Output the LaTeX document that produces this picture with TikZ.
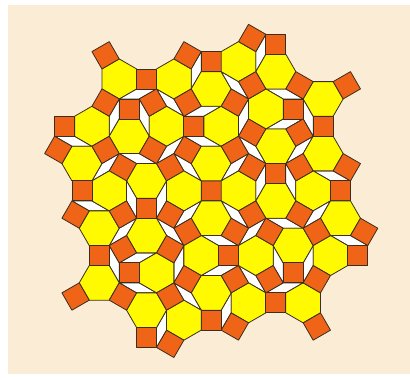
\documentclass[tikz,border=0pt]{standalone}
\usepackage{tikz}
\usepackage{xcolor}
\definecolor{tileorange}{RGB}{240,100,24}
\definecolor{tileyellow}{RGB}{255,250,0}
\definecolor{tileedge}{RGB}{60,45,30}
\definecolor{paperbeige}{RGB}{251,236,214}
\usetikzlibrary{calc}

% tiles: centre and turn, or corner and two edge directions
\newcommand{\sqtile}[2]{%
  \draw[sqr] (#1) +(45+#2:14.142) -- +(135+#2:14.142) -- +(225+#2:14.142) -- +(315+#2:14.142) -- cycle;}
\newcommand{\hextile}[2]{%
  \draw[hexa] (#1) +(#2:20) -- +(60+#2:20) -- +(120+#2:20) -- +(180+#2:20) -- +(240+#2:20) -- +(300+#2:20) -- cycle;}
\newcommand{\rhtile}[3]{%
  \draw[rhomb] (#1) -- ++(#2:20) -- ++(#3:20) -- ++(180+#2:20) -- cycle;}

\begin{document}
\begin{tikzpicture}[x=1pt, y=1pt,
    sqr/.style={fill=tileorange, draw=tileedge, line width=0.8pt, line join=round},
    hexa/.style={fill=tileyellow, draw=tileedge, line width=0.8pt, line join=round},
    rhomb/.style={fill=white, draw=tileedge, line width=0.8pt, line join=round}]
    % paper
    \fill[white] (0,0) rectangle (410,380);
    \fill[paperbeige] (8,6) rectangle (410,375);
    \useasboundingbox (0,0) rectangle (410,380);

    \begin{scope}[shift={(211.2,189.1)}]
        % centre square
        \sqtile{0,0}{0}
        % one quarter, turned four times
        \foreach \turn in {0,-90,-180,-270} {
            \begin{scope}[rotate=\turn]
                % white rhombs
                \rhtile{-27.32,54.64}{0}{330}
                \rhtile{-10,10}{120}{150}
                \rhtile{-37.32,37.32}{60}{210}
                \rhtile{-54.64,27.32}{150}{180}
                \rhtile{-27.32,74.64}{0}{30}
                \rhtile{-27.32,74.64}{120}{150}
                \rhtile{-54.64,101.96}{180}{210}
                \rhtile{-71.96,91.96}{270}{300}
                \rhtile{-91.96,37.32}{210}{240}
                \rhtile{-91.96,91.96}{240}{270}
                \rhtile{-119.28,44.64}{150}{180}
                \rhtile{-20,101.96}{90}{60}
                % hexagons
                \hextile{-91.96,111.96}{30}
                \hextile{-37.32,111.96}{30}
                \hextile{0,101.96}{0}
                \hextile{-119.28,64.64}{30}
                \hextile{-44.64,64.64}{30}
                \hextile{-81.96,54.64}{0}
                \hextile{-129.28,27.32}{0}
                \hextile{-64.64,10}{0}
                \hextile{0,27.32}{0}
                % squares
                \sqtile{-105.62,135.62}{30}
                \sqtile{-23.66,135.62}{60}
                \sqtile{0,129.28}{0}
                \sqtile{-64.64,111.96}{0}
                \sqtile{-105.62,88.3}{60}
                \sqtile{-81.96,81.96}{0}
                \sqtile{-58.3,88.3}{30}
                \sqtile{-23.66,88.3}{30}
                \sqtile{-146.6,64.64}{0}
                \sqtile{-17.32,64.64}{0}
                \sqtile{-152.94,40.98}{60}
                \sqtile{-105.62,40.98}{30}
                \sqtile{-58.3,40.98}{60}
                \sqtile{-23.66,40.98}{60}
                \sqtile{-88.3,23.66}{60}
                \sqtile{-41,23.66}{30}
            \end{scope}
        }
    \end{scope}
\end{tikzpicture}
\end{document}
